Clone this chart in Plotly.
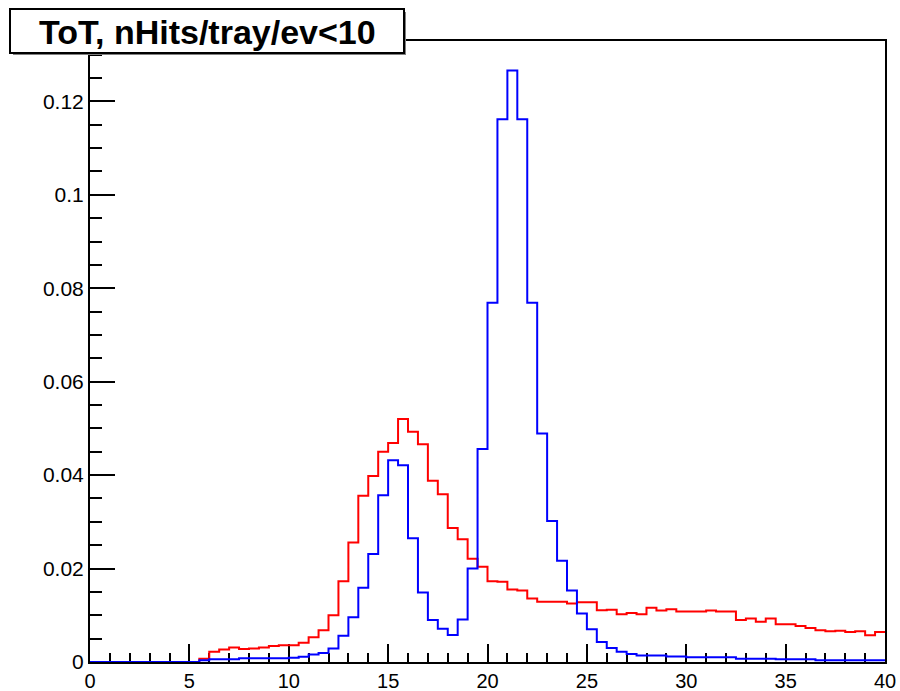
import numpy as np
import plotly.graph_objects as go

# Histogram definition: 80 bins of width 0.5 from 0 to 40
x_min = 0.0
x_max = 40.0
n_bins = 80

red_values = [
    0, 0, 0, 0, 0, 0, 0, 0, 0, 0, 0,
    0.0007, 0.0022, 0.0027, 0.0031, 0.0028, 0.0029, 0.0031, 0.0034, 0.0036,
    0.0036, 0.0041, 0.0053, 0.0068, 0.0100, 0.0173, 0.0256, 0.0356, 0.0398,
    0.0450, 0.0469, 0.0520, 0.0493, 0.0466, 0.0388, 0.0359, 0.0287, 0.0263,
    0.0221, 0.0204, 0.0173, 0.0172, 0.0155, 0.0153, 0.0136, 0.0129, 0.0129,
    0.0129, 0.0125, 0.0128, 0.0128, 0.0111, 0.0112, 0.0102, 0.0105, 0.0102,
    0.0116, 0.0110, 0.0113, 0.0108, 0.0108, 0.0108, 0.0110, 0.0108, 0.0108,
    0.0090, 0.0093, 0.0086, 0.0093, 0.0081, 0.0081, 0.0077, 0.0073, 0.0068,
    0.0066, 0.0067, 0.0064, 0.0066, 0.0057, 0.0064,
]

blue_values = [
    0, 0, 0, 0, 0, 0, 0, 0, 0, 0, 0,
    0.0004, 0.0006, 0.0006, 0.0006, 0.0008, 0.0008, 0.0008, 0.0008, 0.0008,
    0.0009, 0.0011, 0.0016, 0.0019, 0.0029, 0.0056, 0.0096, 0.0159, 0.0231,
    0.0357, 0.0432, 0.0421, 0.0265, 0.0149, 0.0090, 0.0071, 0.0058, 0.0091,
    0.0200, 0.0456, 0.0769, 0.1162, 0.1266, 0.1162, 0.0769, 0.0489, 0.0302,
    0.0217, 0.0153, 0.0104, 0.0070, 0.0043, 0.0030, 0.0022, 0.0017, 0.0014,
    0.0014, 0.0014, 0.0012, 0.0012, 0.0010, 0.0010, 0.0010, 0.0010, 0.0010,
    0.0007, 0.0007, 0.0007, 0.0007, 0.0006, 0.0006, 0.0006, 0.0006, 0.0004,
    0.0004, 0.0004, 0.0004, 0.0004, 0.0004, 0.0004,
]

x_tick_vals = [0, 5, 10, 15, 20, 25, 30, 35, 40]
x_tick_text = ["0", "5", "10", "15", "20", "25", "30", "35", "40"]
y_tick_vals = [0, 0.02, 0.04, 0.06, 0.08, 0.1, 0.12]
y_tick_text = ["0", "0.02", "0.04", "0.06", "0.08", "0.1", "0.12"]

title_text = "ToT, nHits/tray/ev&lt;10"

edges = np.linspace(x_min, x_max, n_bins + 1)


def step_xy(vals):
    xs = list(edges)
    ys = list(vals) + [vals[-1]]
    return xs, ys


fig = go.Figure()
rx, ry = step_xy(red_values)
bx, by = step_xy(blue_values)
fig.add_trace(go.Scatter(x=rx, y=ry, mode="lines", line=dict(color="#ff0000", width=2, shape="hv"),
                         showlegend=False, hoverinfo="skip"))
fig.add_trace(go.Scatter(x=bx, y=by, mode="lines", line=dict(color="#0000ff", width=2, shape="hv"),
                         showlegend=False, hoverinfo="skip"))

y_top = max(max(red_values), max(blue_values)) * 1.05

W, H = 900, 691
L, R, T, B = 90, 15, 41, 29
pw = W - L - R
ph = H - T - B


def px2paper_x(px):
    return (px - L) / pw


def px2paper_y(py):
    return (H - B - py) / ph


font_family = "Liberation Sans, Arial, sans-serif"

fig.update_layout(
    width=W, height=H, autosize=False,
    margin=dict(l=L, r=R, t=T, b=B, autoexpand=False),
    paper_bgcolor="white", plot_bgcolor="white",
    font=dict(family=font_family, size=20, color="black"),
    xaxis=dict(
        range=[x_min, x_max], showgrid=False, zeroline=False, automargin=False,
        showline=True, mirror=True, linecolor="black", linewidth=2,
        tickmode="array", tickvals=x_tick_vals, ticktext=x_tick_text,
        ticks="inside", ticklen=18, tickwidth=2, tickcolor="black",
        minor=dict(dtick=1, ticks="inside", ticklen=9, tickwidth=2, tickcolor="black", showgrid=False),
        tickfont=dict(size=20), layer="below traces",
    ),
    yaxis=dict(
        range=[0, y_top], showgrid=False, zeroline=False, automargin=False,
        showline=True, mirror=True, linecolor="black", linewidth=2,
        tickmode="array", tickvals=y_tick_vals, ticktext=y_tick_text,
        ticks="inside", ticklen=25, tickwidth=2, tickcolor="black",
        minor=dict(dtick=0.005, ticks="inside", ticklen=12, tickwidth=2, tickcolor="black", showgrid=False),
        tickfont=dict(size=21), layer="below traces",
    ),
)

# Title box with shadow
bx0, bx1, by0, by1 = 10, 404, 9, 53
fig.add_shape(type="rect", xref="paper", yref="paper",
              x0=px2paper_x(bx0 + 3), x1=px2paper_x(bx1 + 2),
              y0=px2paper_y(by1 + 2), y1=px2paper_y(by0 + 3),
              fillcolor="#808080", line=dict(width=0), layer="above")
fig.add_shape(type="rect", xref="paper", yref="paper",
              x0=px2paper_x(bx0), x1=px2paper_x(bx1),
              y0=px2paper_y(by1), y1=px2paper_y(by0),
              fillcolor="white", line=dict(color="black", width=2), layer="above")
fig.add_annotation(xref="paper", yref="paper",
                   x=px2paper_x((bx0 + bx1) / 2), y=px2paper_y((by0 + by1) / 2 + 1),
                   text="<b>" + title_text + "</b>", showarrow=False,
                   xanchor="center", yanchor="middle",
                   font=dict(family=font_family, size=34, color="black"))

post = "document.body.style.margin='0px';document.body.style.overflow='hidden';"
fig.write_html("out.html", config={"responsive": False, "displayModeBar": False}, post_script=post)
